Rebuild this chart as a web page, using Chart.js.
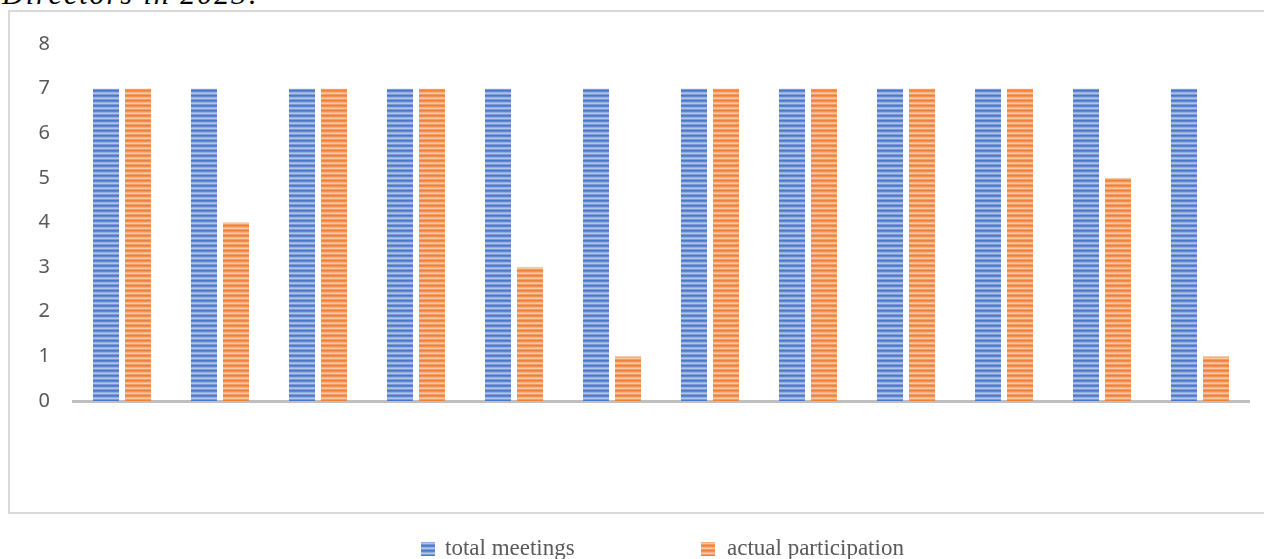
<!DOCTYPE html>
<html>
<head>
<meta charset="utf-8">
<script src="https://cdn.jsdelivr.net/npm/chart.js@4.4.1/dist/chart.umd.min.js"></script>
<style>
  html, body { margin: 0; padding: 0; background: #fff; overflow: hidden; }
  #wrap { position: relative; width: 1264px; height: 559px; }
  #frame { position: absolute; left: 8px; top: 10px; width: 1270px; height: 500px; border: 2px solid #d9d9d9; }
  #title { position: absolute; left: 2px; top: -23px; font: italic 30px "Liberation Serif", serif; color: #000; white-space: nowrap; letter-spacing: 2px; }
  #chart { position: absolute; left: 0; top: 0; }
</style>
</head>
<body>
<div id="wrap">
  <div id="title">Directors in 2023:</div>
  <div id="frame"></div>
  <canvas id="chart" width="1264" height="559"></canvas>
</div>
<script>
var categories = ["", "", "", "", "", "", "", "", "", "", "", ""];
var totalMeetings = [7, 7, 7, 7, 7, 7, 7, 7, 7, 7, 7, 7];
var actualParticipation = [7, 4, 7, 7, 3, 1, 7, 7, 7, 7, 5, 1];
var yTicks = [0, 1, 2, 3, 4, 5, 6, 7, 8];
var seriesNames = ["total meetings", "actual participation"];

// striped fill like the original
function stripes(colors) {
  var c = document.createElement("canvas");
  c.width = 4;
  c.height = colors.length;
  var g = c.getContext("2d");
  for (var i = 0; i < colors.length; i++) {
    g.fillStyle = colors[i];
    g.fillRect(0, i, 4, 1);
  }
  return g.createPattern(c, "repeat");
}
var bluePat = stripes(["#4a78c8", "#6089d0", "#93aedf", "#b2c5e9", "#7d9bd7"]);
var orangePat = stripes(["#ee8038", "#f19152", "#f4b183", "#f7c7a6", "#f29d63"]);

var legendPlugin = {
  id: "myLegend",
  afterDraw: function(chart) {
    var c = chart.ctx;
    var items = [
      { x: 421, tx: 445, text: seriesNames[0], fill: bluePat },
      { x: 701, tx: 727, text: seriesNames[1], fill: orangePat }
    ];
    c.save();
    c.font = '23px "Liberation Serif", serif';
    c.textBaseline = "alphabetic";
    items.forEach(function(it) {
      c.fillStyle = it.fill;
      c.fillRect(it.x, 542, 14, 14);
      c.fillStyle = "#595959";
      c.fillText(it.text, it.tx, 555);
    });
    c.restore();
  }
};

var ctx = document.getElementById("chart").getContext("2d");
var chart = new Chart(ctx, {
  type: "bar",
  data: {
    labels: categories,
    datasets: [{
      label: seriesNames[0],
      data: totalMeetings,
      backgroundColor: bluePat,
      categoryPercentage: 0.653,
      barPercentage: 0.8125
    }, {
      label: seriesNames[1],
      data: actualParticipation,
      backgroundColor: orangePat,
      categoryPercentage: 0.653,
      barPercentage: 0.8125
    }]
  },
  options: {
    responsive: false,
    animation: false,
    layout: { padding: { top: 44, bottom: 158, left: 0, right: 15 } },
    plugins: {
      legend: { display: false },
      tooltip: { enabled: false },
      title: { display: false }
    },
    scales: {
      x: {
        grid: { display: false, drawTicks: false },
        border: { display: true, color: "#bfbfbf", width: 3 },
        ticks: { display: false },
        afterFit: function(s) { s.height = 0; }
      },
      y: {
        min: 0,
        max: 8,
        afterBuildTicks: function(s) { s.ticks = yTicks.map(function(v) { return { value: v }; }); },
        grid: { display: false, drawTicks: false },
        border: { display: false },
        ticks: {
          color: "#595959",
          padding: 23,
          font: { family: '"Noto Sans", sans-serif', size: 20 }
        },
        afterFit: function(s) { s.width = 73; }
      }
    }
  },
  plugins: [legendPlugin]
});
</script>
</body>
</html>
